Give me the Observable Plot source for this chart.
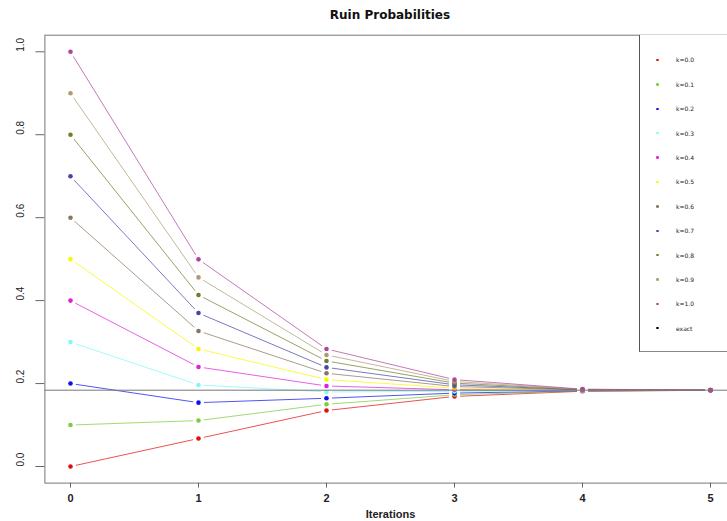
<!DOCTYPE html>
<html><head><meta charset="utf-8">
<script src="https://cdn.jsdelivr.net/npm/d3@7"></script>
<script src="https://cdn.jsdelivr.net/npm/@observablehq/plot@0.6"></script>
<style>
body{margin:0;background:#fff;}
#wrap{position:relative;width:727px;height:521px;overflow:hidden;background:#fff;}
#title{position:absolute;top:8px;left:44px;width:692px;text-align:center;font:bold 12px "DejaVu Sans",sans-serif;color:#111;}
#legend{position:absolute;left:639px;top:35px;width:100px;height:317px;border-left:1px solid #555;border-bottom:1px solid #888;background:#fff;box-sizing:border-box;padding-top:12.8px;}
.item{display:flex;align-items:center;height:24.4px;}
.dot{width:3px;height:2.4px;border-radius:50%;margin-left:16px;}
.lab{margin-left:17px;font:6px "DejaVu Sans",sans-serif;color:#222;}
</style></head>
<body>
<div id="wrap">
  <div id="chart"></div>
  <div id="title">Ruin Probabilities</div>
  <div id="legend"></div>
</div>
<script>
const iterations = [0, 1, 2, 3, 4, 5];
const kLabels = ["k=0.0","k=0.1","k=0.2","k=0.3","k=0.4","k=0.5","k=0.6","k=0.7","k=0.8","k=0.9","k=1.0"];
const colors = ["#e01010","#7ccc3c","#1010ee","#80f8f8","#e020e0","#f8f800","#8b7560","#4646a8","#6e7f2c","#b09a72","#b0449c"];
const k00 = [0.0, 0.0675, 0.135, 0.169, 0.1815, 0.1838];
const k01 = [0.1, 0.1108, 0.150, 0.173, 0.1820, 0.1838];
const k02 = [0.2, 0.154, 0.1646, 0.177, 0.1825, 0.1839];
const k03 = [0.3, 0.1966, 0.1798, 0.181, 0.1830, 0.1839];
const k04 = [0.4, 0.240, 0.1942, 0.185, 0.1835, 0.1840];
const k05 = [0.5, 0.2834, 0.2096, 0.189, 0.1840, 0.1840];
const k06 = [0.6, 0.3268, 0.2248, 0.193, 0.1845, 0.1841];
const k07 = [0.7, 0.370, 0.239, 0.197, 0.1850, 0.1841];
const k08 = [0.8, 0.4135, 0.2545, 0.201, 0.1855, 0.1842];
const k09 = [0.9, 0.456, 0.269, 0.205, 0.1860, 0.1842];
const k10 = [1.0, 0.4995, 0.2834, 0.2095, 0.1865, 0.1843];
const series = [k00,k01,k02,k03,k04,k05,k06,k07,k08,k09,k10];
const exactValue = 0.184;
const exactLabel = "exact";
const xTicks = [0, 1, 2, 3, 4, 5];
const yTicks = [0, 0.2, 0.4, 0.6, 0.8, 1.0];

const data = series.flatMap((vals, s) => vals.map((v, i) => ({k: kLabels[s], it: iterations[i], p: v})));

const chart = Plot.plot({
  width: 727, height: 521,
  marginLeft: 44.4, marginRight: -8.6, marginTop: 34.7, marginBottom: 38.4,
  x: {domain: [-0.2, 5.2]},
  y: {domain: [-0.04, 1.04]},
  color: {domain: kLabels, range: colors},
  style: {background: "white", fontFamily: "Liberation Sans, sans-serif"},
  marks: [
    Plot.frame({stroke: "#777"}),
    Plot.line(data, {x: "it", y: "p", z: "k", stroke: "k", strokeWidth: 1, strokeOpacity: 0.72}),
    Plot.dot(data, {x: "it", y: "p", r: 5.5, fill: "white"}),
    Plot.dot(data, {x: "it", y: "p", r: 2.3, fill: "k"}),
    Plot.ruleY([exactValue], {stroke: "#777", strokeWidth: 1}),
    Plot.axisX({ticks: xTicks, tickFormat: d3.format("d"), tickSize: 5, tickPadding: 6, fontSize: 11, fontWeight: "bold", label: null, stroke: "#666", fill: "#222"}),
    Plot.axisY({ticks: yTicks, tickSize: 9, tickFormat: () => "", label: null, stroke: "#666"}),
    Plot.text(yTicks, {y: d => d, text: d => d.toFixed(1), frameAnchor: "left", dx: -24, rotate: -90, fontSize: 10, fill: "#222"}),
    Plot.text(["Iterations"], {frameAnchor: "bottom", dy: 35, fontSize: 11, fontWeight: "bold", fill: "#222"})
  ]
});
document.getElementById("chart").appendChild(chart);

const legend = document.getElementById("legend");
const legendItems = kLabels.map((l, i) => ({label: l, color: colors[i]})).concat([{label: exactLabel, color: "#000"}]);
for (const it of legendItems) {
  const row = document.createElement("div");
  row.className = "item";
  const dot = document.createElement("span");
  dot.className = "dot"; dot.style.background = it.color;
  const lab = document.createElement("span");
  lab.className = "lab"; lab.textContent = it.label;
  row.appendChild(dot); row.appendChild(lab);
  legend.appendChild(row);
}
</script>
</body></html>
